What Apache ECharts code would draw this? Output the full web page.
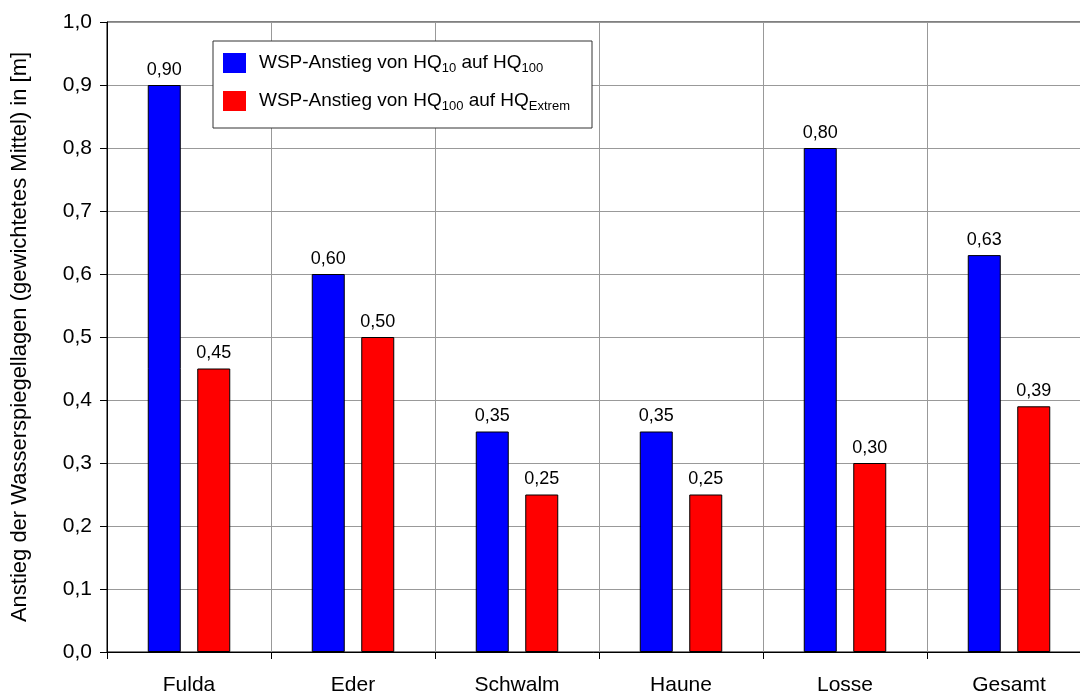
<!DOCTYPE html>
<html>
<head>
<meta charset="utf-8">
<script src="https://cdn.jsdelivr.net/npm/echarts@6/dist/echarts.min.js"></script>
<style>
  html, body { margin: 0; padding: 0; background: #fff; }
  #chart { width: 1080px; height: 693px; }
</style>
</head>
<body>
<div id="chart"></div>
<script>
// Gewässer / Auswertungsbereiche
const categories = ['Fulda', 'Eder', 'Schwalm', 'Haune', 'Losse', 'Gesamt'];
// WSP-Anstieg von HQ10 auf HQ100 [m]
const anstiegHQ10HQ100 = [0.90, 0.60, 0.35, 0.35, 0.80, 0.63];
// WSP-Anstieg von HQ100 auf HQExtrem [m]
const anstiegHQ100Extrem = [0.45, 0.50, 0.25, 0.25, 0.30, 0.39];
const seriesNames = ['WSP-Anstieg von HQ10 auf HQ100', 'WSP-Anstieg von HQ100 auf HQExtrem'];
const legendRich = [
  '{a|WSP-Anstieg von HQ}{s|10}{a| auf HQ}{s|100}',
  '{a|WSP-Anstieg von HQ}{s|100}{a| auf HQ}{s|Extrem}'
];
const yAxisTitle = 'Anstieg der Wasserspiegellagen (gewichtetes Mittel) in [m]';

const FONT = '"Liberation Sans", Arial, sans-serif';
const comma = (v, d) => v.toFixed(d).replace('.', ',');

const chart = echarts.init(document.getElementById('chart'), null, { renderer: 'canvas' });

const barLabel = {
  show: true,
  position: 'top',
  distance: 6,
  fontFamily: FONT,
  fontSize: 18,
  color: '#000',
  formatter: p => comma(p.value, 2)
};

chart.setOption({
  animation: false,
  backgroundColor: '#fff',
  grid: {
    left: 107, top: 22, width: 984, height: 630,
    outerBoundsMode: 'none',
    show: true, borderColor: '#000', borderWidth: 1, containLabel: false
  },
  legend: {
    orient: 'vertical',
    left: 213, top: 41,
    padding: [12, 22, 15, 10],
    itemWidth: 23, itemHeight: 20, itemGap: 16,
    backgroundColor: '#fff',
    borderColor: '#333', borderWidth: 1,
    icon: 'rect',
    itemStyle: { borderWidth: 0 },
    data: seriesNames,
    formatter: name => legendRich[seriesNames.indexOf(name)],
    textStyle: {
      fontFamily: FONT,
      padding: [0, 0, 0, 8],
      rich: {
        a: { fontFamily: FONT, fontSize: 19, color: '#000', lineHeight: 24 },
        s: { fontFamily: FONT, fontSize: 13, color: '#000', lineHeight: 13, verticalAlign: 'bottom' }
      }
    }
  },
  xAxis: {
    type: 'category',
    data: categories,
    boundaryGap: true,
    axisLine: { lineStyle: { color: '#000', width: 1 } },
    axisTick: { show: true, length: 7, lineStyle: { color: '#000' } },
    axisLabel: { fontFamily: FONT, fontSize: 21, color: '#000', margin: 23 },
    splitLine: { show: true, lineStyle: { color: '#999', width: 1 } }
  },
  yAxis: {
    type: 'value',
    min: 0, max: 1, interval: 0.1,
    name: yAxisTitle,
    nameLocation: 'middle',
    nameGap: 76,
    nameTextStyle: { fontFamily: FONT, fontSize: 22, color: '#000' },
    axisLine: { show: true, lineStyle: { color: '#000', width: 1 } },
    axisTick: { show: true, length: 7, lineStyle: { color: '#000' } },
    axisLabel: { fontFamily: FONT, fontSize: 21, color: '#000', margin: 15, formatter: v => comma(v, 1) },
    splitLine: { show: true, lineStyle: { color: '#999', width: 1 } }
  },
  series: [
    {
      name: seriesNames[0], type: 'bar', data: anstiegHQ10HQ100,
      barWidth: 33, barGap: '50%',
      itemStyle: { color: '#0000ff', borderColor: '#000', borderWidth: 1 },
      label: barLabel
    },
    {
      name: seriesNames[1], type: 'bar', data: anstiegHQ100Extrem,
      barWidth: 33, barGap: '50%',
      itemStyle: { color: '#ff0000', borderColor: '#000', borderWidth: 1 },
      label: barLabel
    }
  ]
});
</script>
</body>
</html>
